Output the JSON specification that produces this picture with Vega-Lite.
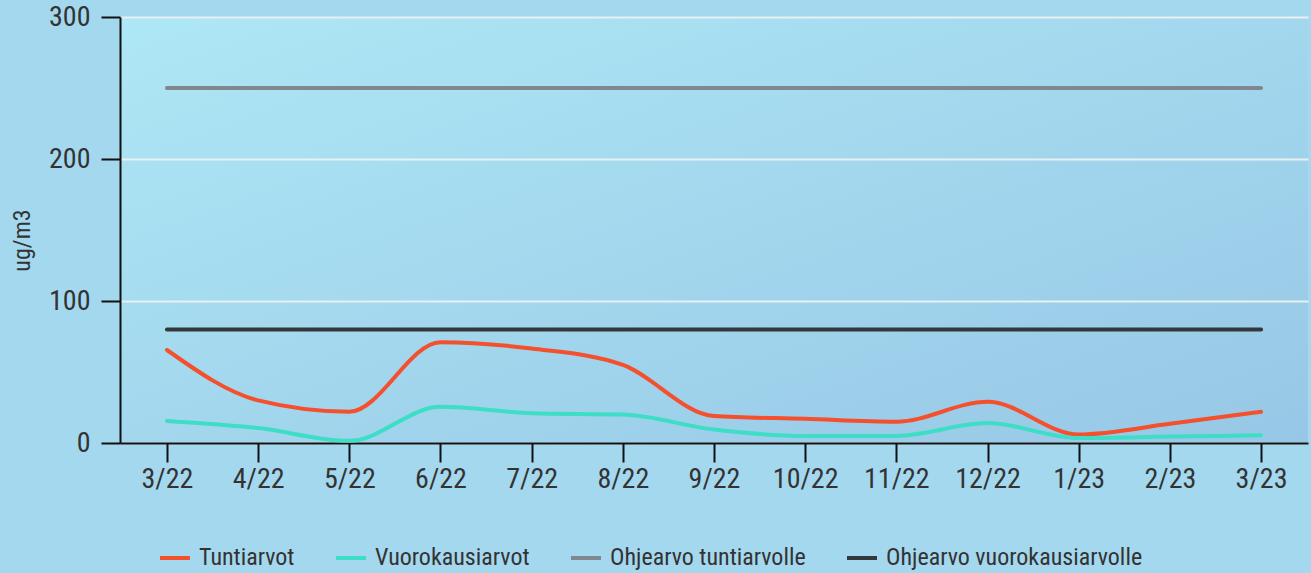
{
  "$schema": "https://vega.github.io/schema/vega-lite/v6.json",
  "width": 1188,
  "height": 426,
  "autosize": "none",
  "padding": {"left": 120, "top": 17, "right": 3, "bottom": 130},
  "background": "#A4D8EF",
  "config": {
    "font": "Roboto Condensed, Liberation Sans Narrow, DejaVu Sans Condensed, Roboto",
    "view": {
      "stroke": null,
      "fill": {"gradient": "linear", "x1": 0, "y1": 0, "x2": 1, "y2": 1, "stops": [{"offset": 0, "color": "#AEE7F5"}, {"offset": 1, "color": "#97C7E6"}]}
    }
  },
  "data": {"values": [
    {"m": "3/22", "s": "Tuntiarvot", "v": 65.5},
    {"m": "4/22", "s": "Tuntiarvot", "v": 30},
    {"m": "5/22", "s": "Tuntiarvot", "v": 22},
    {"m": "6/22", "s": "Tuntiarvot", "v": 71},
    {"m": "7/22", "s": "Tuntiarvot", "v": 66.5},
    {"m": "8/22", "s": "Tuntiarvot", "v": 55},
    {"m": "9/22", "s": "Tuntiarvot", "v": 19},
    {"m": "10/22", "s": "Tuntiarvot", "v": 17},
    {"m": "11/22", "s": "Tuntiarvot", "v": 15},
    {"m": "12/22", "s": "Tuntiarvot", "v": 29},
    {"m": "1/23", "s": "Tuntiarvot", "v": 6},
    {"m": "2/23", "s": "Tuntiarvot", "v": 13.5},
    {"m": "3/23", "s": "Tuntiarvot", "v": 22},
    {"m": "3/22", "s": "Vuorokausiarvot", "v": 15.5},
    {"m": "4/22", "s": "Vuorokausiarvot", "v": 10.5},
    {"m": "5/22", "s": "Vuorokausiarvot", "v": 1.5},
    {"m": "6/22", "s": "Vuorokausiarvot", "v": 25.5},
    {"m": "7/22", "s": "Vuorokausiarvot", "v": 21},
    {"m": "8/22", "s": "Vuorokausiarvot", "v": 20},
    {"m": "9/22", "s": "Vuorokausiarvot", "v": 9.5},
    {"m": "10/22", "s": "Vuorokausiarvot", "v": 5},
    {"m": "11/22", "s": "Vuorokausiarvot", "v": 5},
    {"m": "12/22", "s": "Vuorokausiarvot", "v": 14},
    {"m": "1/23", "s": "Vuorokausiarvot", "v": 3.5},
    {"m": "2/23", "s": "Vuorokausiarvot", "v": 4.5},
    {"m": "3/23", "s": "Vuorokausiarvot", "v": 5.5},
    {"m": "3/22", "s": "Ohjearvo tuntiarvolle", "v": 250},
    {"m": "4/22", "s": "Ohjearvo tuntiarvolle", "v": 250},
    {"m": "5/22", "s": "Ohjearvo tuntiarvolle", "v": 250},
    {"m": "6/22", "s": "Ohjearvo tuntiarvolle", "v": 250},
    {"m": "7/22", "s": "Ohjearvo tuntiarvolle", "v": 250},
    {"m": "8/22", "s": "Ohjearvo tuntiarvolle", "v": 250},
    {"m": "9/22", "s": "Ohjearvo tuntiarvolle", "v": 250},
    {"m": "10/22", "s": "Ohjearvo tuntiarvolle", "v": 250},
    {"m": "11/22", "s": "Ohjearvo tuntiarvolle", "v": 250},
    {"m": "12/22", "s": "Ohjearvo tuntiarvolle", "v": 250},
    {"m": "1/23", "s": "Ohjearvo tuntiarvolle", "v": 250},
    {"m": "2/23", "s": "Ohjearvo tuntiarvolle", "v": 250},
    {"m": "3/23", "s": "Ohjearvo tuntiarvolle", "v": 250},
    {"m": "3/22", "s": "Ohjearvo vuorokausiarvolle", "v": 80},
    {"m": "4/22", "s": "Ohjearvo vuorokausiarvolle", "v": 80},
    {"m": "5/22", "s": "Ohjearvo vuorokausiarvolle", "v": 80},
    {"m": "6/22", "s": "Ohjearvo vuorokausiarvolle", "v": 80},
    {"m": "7/22", "s": "Ohjearvo vuorokausiarvolle", "v": 80},
    {"m": "8/22", "s": "Ohjearvo vuorokausiarvolle", "v": 80},
    {"m": "9/22", "s": "Ohjearvo vuorokausiarvolle", "v": 80},
    {"m": "10/22", "s": "Ohjearvo vuorokausiarvolle", "v": 80},
    {"m": "11/22", "s": "Ohjearvo vuorokausiarvolle", "v": 80},
    {"m": "12/22", "s": "Ohjearvo vuorokausiarvolle", "v": 80},
    {"m": "1/23", "s": "Ohjearvo vuorokausiarvolle", "v": 80},
    {"m": "2/23", "s": "Ohjearvo vuorokausiarvolle", "v": 80},
    {"m": "3/23", "s": "Ohjearvo vuorokausiarvolle", "v": 80}
  ]},
  "mark": {"type": "line", "strokeWidth": 4, "strokeCap": "round", "interpolate": "monotone"},
  "encoding": {
    "x": {
      "field": "m", "type": "ordinal", "sort": null,
      "scale": {"type": "point", "padding": 0.515},
      "axis": {
        "title": null, "labelAngle": 0, "labelFontSize": 28, "labelColor": "#333333",
        "labelPadding": 3, "tickSize": 19, "tickColor": "#111111", "tickWidth": 2,
        "domainColor": "#111111", "domainWidth": 2, "grid": false
      }
    },
    "y": {
      "field": "v", "type": "quantitative",
      "scale": {"domain": [0, 300]},
      "axis": {
        "values": [0, 100, 200, 300], "title": "ug/m3", "titleFontSize": 24, "titleFontWeight": "normal",
        "titleColor": "#333333", "titleX": -98, "titleY": 223, "titleAngle": -90,
        "titleBaseline": "middle", "titleAlign": "center",
        "labelFontSize": 28, "labelColor": "#333333", "labelPadding": 11,
        "tickSize": 19, "tickColor": "#111111", "tickWidth": 2,
        "domainColor": "#111111", "domainWidth": 2,
        "grid": true, "gridColor": "#E8F0F2", "gridWidth": 2
      }
    },
    "color": {
      "field": "s", "type": "nominal",
      "scale": {
        "domain": ["Tuntiarvot", "Vuorokausiarvot", "Ohjearvo tuntiarvolle", "Ohjearvo vuorokausiarvolle"],
        "range": ["#F4502D", "#3EDDC6", "#80878F", "#33383B"]
      },
      "legend": {
        "title": null, "orient": "none", "direction": "horizontal", "legendX": 38, "legendY": 524,
        "symbolType": "stroke", "symbolSize": 900, "symbolStrokeWidth": 4,
        "labelFontSize": 24, "labelColor": "#333333", "columnPadding": 33, "labelOffset": 7, "labelLimit": 0
      }
    }
  }
}
